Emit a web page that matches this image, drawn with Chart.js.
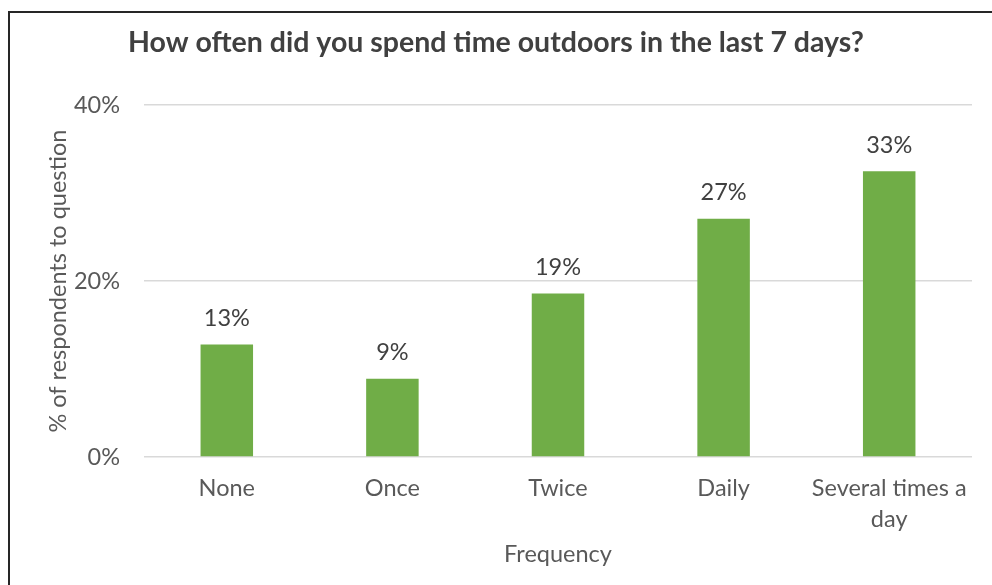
<!DOCTYPE html>
<html>
<head>
<meta charset="utf-8">
<script src="https://cdn.jsdelivr.net/npm/chart.js@4"></script>
<style>
  html, body { margin: 0; padding: 0; background: #fff; }
  #wrap { width: 992px; height: 585px; }
</style>
</head>
<body>
<div id="wrap"><canvas id="outdoorsChart" width="992" height="585"></canvas></div>
<script>
// datos
const categories = ["None", "Once", "Twice", "Daily", ["Several times a", "day"]];
const percentValues = [12.8, 8.9, 18.6, 27.1, 32.5];
const yTicks = [0, 20, 40];

const chartTitle = "How often did you spend time outdoors in the last 7 days?";
const yTitle = "% of respondents to question";
const xTitle = "Frequency";

const fontFamily = "Lato, 'Open Sans', sans-serif";
const textSize = 23.5;

// marco negro que sale por la derecha y abajo
const framePlugin = {
  id: "frame",
  beforeDraw(chart) {
    const ctx = chart.ctx;
    ctx.save();
    ctx.strokeStyle = "#262626";
    ctx.lineWidth = 2;
    ctx.beginPath();
    ctx.moveTo(9, chart.height);
    ctx.lineTo(9, 12);
    ctx.lineTo(chart.width, 12);
    ctx.stroke();
    ctx.restore();
  },
};

// etiquetas encima de cada barra
const barLabels = {
  id: "barLabels",
  afterDatasetsDraw(chart) {
    const ctx = chart.ctx;
    const meta = chart.getDatasetMeta(0);
    ctx.save();
    ctx.font = textSize + "px " + fontFamily;
    ctx.fillStyle = "#404040";
    ctx.textAlign = "center";
    ctx.textBaseline = "middle";
    meta.data.forEach((bar, i) => {
      ctx.fillText(Math.round(percentValues[i]) + "%", bar.x, bar.y - 26);
    });
    ctx.restore();
  },
};

document.addEventListener("DOMContentLoaded", function () {
  const ctx = document.getElementById("outdoorsChart").getContext("2d");
  new Chart(ctx, {
    type: "bar",
    data: {
      labels: categories,
      datasets: [
        {
          label: "% of respondents",
          data: percentValues,
          backgroundColor: "#70AD47",
          borderWidth: 0,
          barPercentage: 0.317,
          categoryPercentage: 1,
        },
      ],
    },
    options: {
      responsive: false,
      animation: false,
      layout: { padding: { left: 20, right: 20, top: 0, bottom: 0 } },
      plugins: {
        legend: { display: false },
        tooltip: { enabled: false },
        title: {
          display: true,
          text: chartTitle,
          color: "#404040",
          font: { family: fontFamily, size: 28.5, weight: "bold", lineHeight: 1.2 },
          padding: { top: 26, bottom: 45 },
        },
      },
      scales: {
        x: {
          grid: { display: false },
          border: { display: false },
          ticks: {
            color: "#595959",
            font: { family: fontFamily, size: textSize, lineHeight: "31px" },
            padding: 8,
            maxRotation: 0,
            autoSkip: false,
          },
          title: {
            display: true,
            text: xTitle,
            color: "#595959",
            font: { family: fontFamily, size: textSize, lineHeight: 1.2 },
            padding: { top: 0, bottom: 16 },
          },
          afterFit(scale) {
            scale.height = 128;
          },
        },
        y: {
          min: 0,
          max: 40,
          afterBuildTicks(scale) {
            scale.ticks = yTicks.map((v) => ({ value: v }));
          },
          grid: { color: "#d9d9d9", lineWidth: 1.5, drawTicks: false },
          border: { display: false },
          ticks: {
            color: "#595959",
            font: { family: fontFamily, size: textSize },
            padding: 24,
            callback: (v) => v + "%",
          },
          title: {
            display: true,
            text: yTitle,
            color: "#595959",
            font: { family: fontFamily, size: textSize, lineHeight: 1.2 },
            padding: { top: 24, bottom: 0 },
          },
          afterFit(scale) {
            scale.width = 124;
          },
        },
      },
    },
    plugins: [framePlugin, barLabels],
  });
});
</script>
</body>
</html>
